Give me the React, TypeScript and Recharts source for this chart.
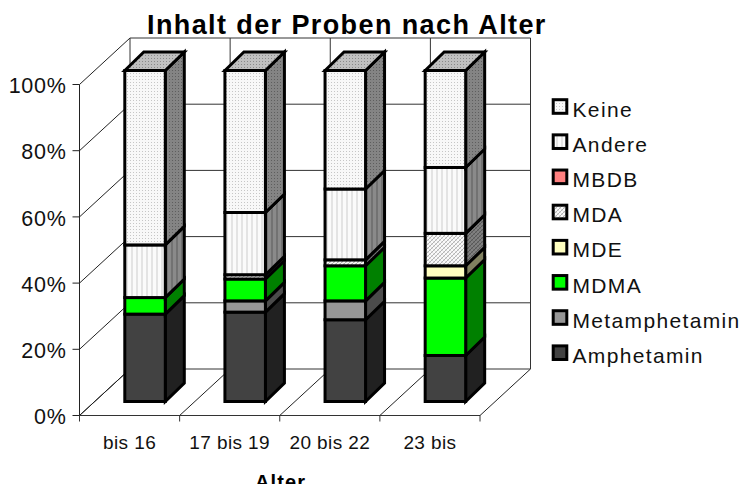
import { BarChart, Bar, XAxis, YAxis, CartesianGrid } from "recharts";

const ageGroups = ["bis 16", "17 bis 19", "20 bis 22", "23 bis"];
const yTicks = [0, 20, 40, 60, 80, 100];

const amphetamin = [26.4, 27.0, 24.7, 13.9];
const metamphetamin = [0, 3.4, 5.7, 0];
const mdma = [5.0, 6.6, 10.6, 23.4];
const mde = [0, 0, 0, 3.7];
const mda = [0, 1.3, 1.8, 9.8];
const mbdb = [0, 0, 0, 0];
const andere = [15.9, 18.8, 21.4, 19.9];
const keine = [52.7, 42.9, 35.8, 29.3];

// bottom of the stack first
const seriesNames = ["Amphetamin", "Metamphetamin", "MDMA", "MDE", "MDA", "MBDB", "Andere", "Keine"];
const seriesValues = [amphetamin, metamphetamin, mdma, mde, mda, mbdb, andere, keine];

const data = ageGroups.map((age, i) => {
  const row: Record<string, string | number> = { age };
  seriesNames.forEach((name, s) => {
    row[name] = seriesValues[s][i];
  });
  return row;
});

const WIDTH = 741;
const HEIGHT = 484;
const PLOT_LEFT = 79.5;
const PLOT_TOP = 84.5;
const PLOT_RIGHT = 480;
const PLOT_BOTTOM = 415.5;
const BAND = (PLOT_RIGHT - PLOT_LEFT) / ageGroups.length;

// oblique offset of the back wall
const WALL_DX = 50.5;
const WALL_DY = 46.5;
// bars stand in the middle of the floor
const BAR_DX = 15.3;
const BAR_DY = 14;
const BAR_DEPTH_X = 19;
const BAR_DEPTH_Y = 18.5;

const FONT = "'Liberation Sans', Arial, sans-serif";
const INK = "#111";

const faces: Record<string, { front: string; side: string; top: string }> = {
  Amphetamin: { front: "#424242", side: "#212121", top: "#303030" },
  Metamphetamin: { front: "#969696", side: "#4b4b4b", top: "#707070" },
  MDMA: { front: "#00ff00", side: "#008000", top: "#00c000" },
  MDE: { front: "#ffffc0", side: "#808060", top: "#c0c090" },
  MDA: { front: "url(#hatch)", side: "url(#hatchSide)", top: "url(#hatchSide)" },
  MBDB: { front: "#ff8080", side: "#804040", top: "#c06060" },
  Andere: { front: "url(#stripes)", side: "url(#stripesSide)", top: "url(#stripesSide)" },
  Keine: { front: "url(#dots)", side: "url(#dotsSide)", top: "url(#dotsTop)" },
};

function Box3D(props: any) {
  const { x, y, width, height, name } = props;
  if (!height || height <= 0) return null;
  const f = faces[name];
  const left = x + BAR_DX;
  const right = left + width;
  const top = y - BAR_DY;
  const bottom = top + height;
  const dx = BAR_DEPTH_X;
  const dy = BAR_DEPTH_Y;
  return (
    <g stroke="#000" strokeWidth={3} strokeLinejoin="miter">
      <polygon
        points={`${right},${top} ${right + dx},${top - dy} ${right + dx},${bottom - dy} ${right},${bottom}`}
        fill={f.side}
      />
      {name === "Keine" && (
        <polygon
          points={`${left},${top} ${left + dx},${top - dy} ${right + dx},${top - dy} ${right},${top}`}
          fill={f.top}
        />
      )}
      <rect x={left} y={top} width={width} height={height} fill={f.front} />
    </g>
  );
}

function Patterns() {
  const dots = (id: string, bg: string, fg: string) => (
    <pattern id={id} width={3} height={3} patternUnits="userSpaceOnUse">
      <rect width={3} height={3} fill={bg} />
      <rect x={1} y={1} width={1} height={1} fill={fg} />
    </pattern>
  );
  const stripes = (id: string, bg: string, fg: string) => (
    <pattern id={id} width={5} height={4} patternUnits="userSpaceOnUse">
      <rect width={5} height={4} fill={bg} />
      <rect x={1} width={2} height={4} fill={fg} />
    </pattern>
  );
  const hatch = (id: string, bg: string, fg: string) => (
    <pattern id={id} width={4} height={4} patternUnits="userSpaceOnUse">
      <rect width={4} height={4} fill={bg} />
      <path d="M0 4L4 0M-1 1L1 -1M3 5L5 3" stroke={fg} strokeWidth={1} />
      <path d="M0 0L4 4" stroke={fg} strokeWidth={0.4} />
    </pattern>
  );
  return (
    <defs>
      {dots("dots", "#f8f8f8", "#c6c6c6")}
      {dots("dotsSide", "#848484", "#5e5e5e")}
      {dots("dotsTop", "#c0c0c0", "#8a8a8a")}
      {stripes("stripes", "#fbfbfb", "#e4e4e4")}
      {stripes("stripesSide", "#8a8a8a", "#727272")}
      {hatch("hatch", "#fafafa", "#b4b4b4")}
      {hatch("hatchSide", "#808080", "#585858")}
    </defs>
  );
}

// a horizontal grid value: left wall diagonal plus the line on the back wall
function WallLine(props: any) {
  const { x1, x2, y1 } = props;
  return (
    <g key={`h-${y1}`} fill="none">
      <line x1={x1} y1={y1} x2={x1 + WALL_DX} y2={y1 - WALL_DY} stroke="#222" />
      <line
        x1={x1 + WALL_DX}
        y1={y1 - WALL_DY}
        x2={x2 + WALL_DX}
        y2={y1 - WALL_DY}
        stroke="#333"
      />
    </g>
  );
}

// category boundaries: floor diagonal plus the vertical on the back wall
function BoundaryLine(x: number) {
  return (
    <g key={`v-${x}`} fill="none">
      <line x1={x} y1={PLOT_BOTTOM} x2={x + WALL_DX} y2={PLOT_BOTTOM - WALL_DY} stroke="#222" />
      <line
        x1={x + WALL_DX}
        y1={PLOT_TOP - WALL_DY}
        x2={x + WALL_DX}
        y2={PLOT_BOTTOM - WALL_DY}
        stroke="#333"
      />
    </g>
  );
}

function FloorLines(props: any) {
  const left = props.x1 - BAND / 2;
  const isLast = props.x1 + BAND / 2 > PLOT_RIGHT - 1;
  return (
    <g key={`b-${props.x1}`}>
      {BoundaryLine(left)}
      {isLast && BoundaryLine(left + BAND)}
    </g>
  );
}

function CategoryTick(props: any) {
  const { x, y, payload } = props;
  const boundary = x - BAND / 2;
  return (
    <g>
      <line x1={boundary} y1={PLOT_BOTTOM} x2={boundary} y2={PLOT_BOTTOM + 6} stroke="#333" />
      {x + BAND / 2 > PLOT_RIGHT - 1 && (
        <line x1={x + BAND / 2} y1={PLOT_BOTTOM} x2={x + BAND / 2} y2={PLOT_BOTTOM + 6} stroke="#333" />
      )}
      <text
        x={x}
        y={y + 25}
        textAnchor="middle"
        fontFamily={FONT}
        fontSize={19}
        letterSpacing={0.4}
        fill={INK}
      >
        {payload.value}
      </text>
    </g>
  );
}

function LegendBlock() {
  const reversed = [...seriesNames].reverse();
  return (
    <g>
      {reversed.map((name, i) => {
        const cy = 106.5 + i * 35.17;
        return (
          <g key={name}>
            <rect
              x={553.2}
              y={cy - 6.8}
              width={13.6}
              height={13.6}
              fill={faces[name].front}
              stroke="#000"
              strokeWidth={3}
            />
            <text
              x={572.5}
              y={cy + 10.2}
              fontFamily={FONT}
              fontSize={21}
              letterSpacing={1.35}
              fill={INK}
            >
              {name}
            </text>
          </g>
        );
      })}
    </g>
  );
}

export default function App() {
  return (
    <div style={{ position: "absolute", left: 0, top: 0, width: WIDTH, height: HEIGHT, overflow: "hidden" }}>
      <BarChart
        width={WIDTH}
        height={HEIGHT}
        data={data}
        barSize={40.5}
        margin={{ top: PLOT_TOP, right: WIDTH - PLOT_RIGHT, bottom: 0, left: 0 }}
      >
        <Patterns />
        <CartesianGrid
          horizontal={WallLine}
          vertical={FloorLines}
          syncWithTicks
          fill="none"
        />
        <XAxis
          dataKey="age"
          height={HEIGHT - PLOT_BOTTOM}
          interval={0}
          tickLine={false}
          stroke="#333"
          tick={CategoryTick}
        />
        <YAxis
          width={PLOT_LEFT}
          domain={[0, 100]}
          ticks={yTicks}
          interval={0}
          tickFormatter={(v: number) => `${v}%`}
          stroke="#222"
          tickSize={7}
          tickMargin={6}
          tick={{ fontFamily: FONT, fontSize: 21.5, letterSpacing: 0.7, fill: INK, dy: 1 }}
        />
        {seriesNames.map((name) => (
          <Bar
            key={name}
            dataKey={name}
            name={name}
            stackId="age"
            isAnimationActive={false}
            shape={<Box3D name={name} />}
          />
        ))}
        <text
          x={147}
          y={34}
          fontFamily={FONT}
          fontSize={27}
          fontWeight="bold"
          letterSpacing={1.4}
          fill="#000"
        >
          Inhalt der Proben nach Alter
        </text>
        <text
          x={255}
          y={489}
          fontFamily={FONT}
          fontSize={20}
          fontWeight="bold"
          letterSpacing={1.1}
          fill="#000"
        >
          Alter
        </text>
        <LegendBlock />
      </BarChart>
    </div>
  );
}
